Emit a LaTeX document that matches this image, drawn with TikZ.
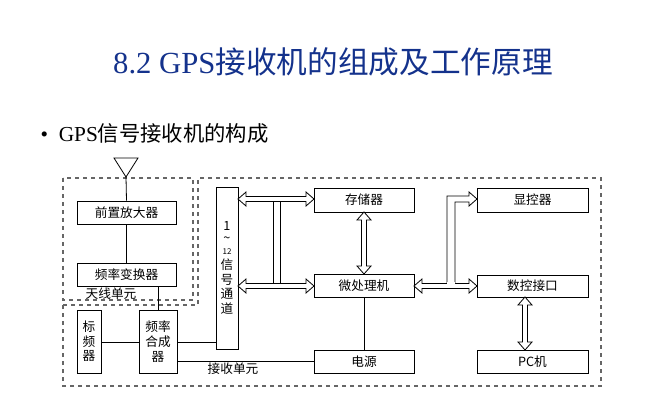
\documentclass[tikz,border=0pt]{standalone}
\usepackage{fontspec}
\setmainfont{Liberation Serif}
\newfontfamily\cjk{Noto Sans CJK SC}
\usetikzlibrary{calc}
\definecolor{titleblue}{RGB}{20,50,140}
\begin{document}
\begin{tikzpicture}[x=0.75pt,y=-0.75pt,
  bx/.style={draw,line width=0.6pt,inner sep=0pt,font=\cjk\fontsize{9.5pt}{11pt}\selectfont},
  ln/.style={line width=0.6pt},
  dsh/.style={draw=gray!80!black,dashed,line width=0.8pt},
  hol/.style={draw,fill=white,line width=0.6pt}]
\useasboundingbox (0,0) rectangle (667,400);
\node[text=titleblue,font=\fontsize{23pt}{26pt}\selectfont] (title) at (333,62) {8.2 GPS{\cjk 接收机的组成及工作原理}};
\node[anchor=west,font=\fontsize{16pt}{18pt}\selectfont] (bul) at (36,133) {\textbullet\ \ GPS{\cjk 信号接收机的构成}};
% dashed units
\draw[dsh] (63,305) -- (198,305) -- (198,178) -- (601,178) -- (601,386) -- (63,386) -- cycle;
\draw[dsh] (63,178) rectangle (193,300);
% boxes
\node[bx,minimum width=74.25pt,minimum height=17.25pt] (pa) at (126.5,212.5) {前置放大器};
\node[bx,minimum width=74.25pt,minimum height=17.25pt] (fc) at (126.5,274.5) {频率变换器};
\node[bx,minimum width=18pt,minimum height=47.25pt,align=center] (bp) at (89,341.5) {标\\频\\器};
\node[bx,minimum width=28.5pt,minimum height=47.25pt,align=center] (fs) at (158,341.5) {频率\\合成\\器};
\node[bx,minimum width=16.5pt,minimum height=121.5pt,align=center] (ch) at (227,268) {1\\[-2pt]\textasciitilde\\[-2pt]{\fontsize{6pt}{7pt}\selectfont 12}\\信\\号\\通\\道};
\node[bx,minimum width=75pt,minimum height=18pt] (st) at (364,200) {存储器};
\node[bx,minimum width=75pt,minimum height=17.25pt] (mp) at (364,285.5) {微处理机};
\node[bx,minimum width=75pt,minimum height=17.25pt] (ps) at (364,361.5) {电源};
\node[bx,minimum width=83.25pt,minimum height=18pt] (dc) at (532.5,200) {显控器};
\node[bx,minimum width=83.25pt,minimum height=16.5pt] (ni) at (532.5,286) {数控接口};
\node[bx,minimum width=83.25pt,minimum height=17.25pt] (pc) at (532.5,361.5) {PC{\cjk 机}};
\node[font=\cjk\fontsize{9.5pt}{11pt}\selectfont] (l1) at (111,294) {天线单元};
\node[font=\cjk\fontsize{9.5pt}{11pt}\selectfont] (l2) at (233,369) {接收单元};
% antenna
\coordinate (ant) at (126,177);
\draw[ln] (114,158) -- (138,158) -- (ant) -- cycle;
\draw[ln] (ant) -- (pa.north);
\draw[ln] (pa.south) -- (fc.north);
\draw[ln] (fc.south-|fs.north) -- (fs.north);
\draw[ln] (bp.east|-0,342) -- (fs.west|-0,342);
\draw[ln] (fs.east|-0,342) -- (ch.west|-0,342);
\draw[ln] (fs.east|-0,361) -- (ps.west|-0,361);
\draw[ln] (mp.south) -- (ps.north);
% hollow arrows
\newcommand\hh[3]{\draw[hol] (#1,#3) -- (#1+8,#3-7) -- (#1+8,#3-2.5) -- (#2-8,#3-2.5) -- (#2-8,#3-7) -- (#2,#3) -- (#2-8,#3+7) -- (#2-8,#3+2.5) -- (#1+8,#3+2.5) -- (#1+8,#3+7) -- cycle;}
\newcommand\vv[3]{\draw[hol] (#3,#1) -- (#3-7,#1+8) -- (#3-2.5,#1+8) -- (#3-2.5,#2-8) -- (#3-7,#2-8) -- (#3,#2) -- (#3+7,#2-8) -- (#3+2.5,#2-8) -- (#3+2.5,#1+8) -- (#3+7,#1+8) -- cycle;}
\hh{238}{314}{199}
\hh{238}{314}{286}
\draw[ln] (273,201.5) -- (273,283.5);
\draw[ln] (280,201.5) -- (280,283.5);
\vv{212}{274}{364}
\hh{414}{477}{286}
\draw[hol] (447,283.5) -- (447,196) -- (469,196) -- (469,192) -- (477,199) -- (469,206) -- (469,202) -- (455,202) -- (455,283.5);
\fill[white] (447.4,282) rectangle (454.6,285);
\vv{297}{350}{525}
\end{tikzpicture}
\end{document}
